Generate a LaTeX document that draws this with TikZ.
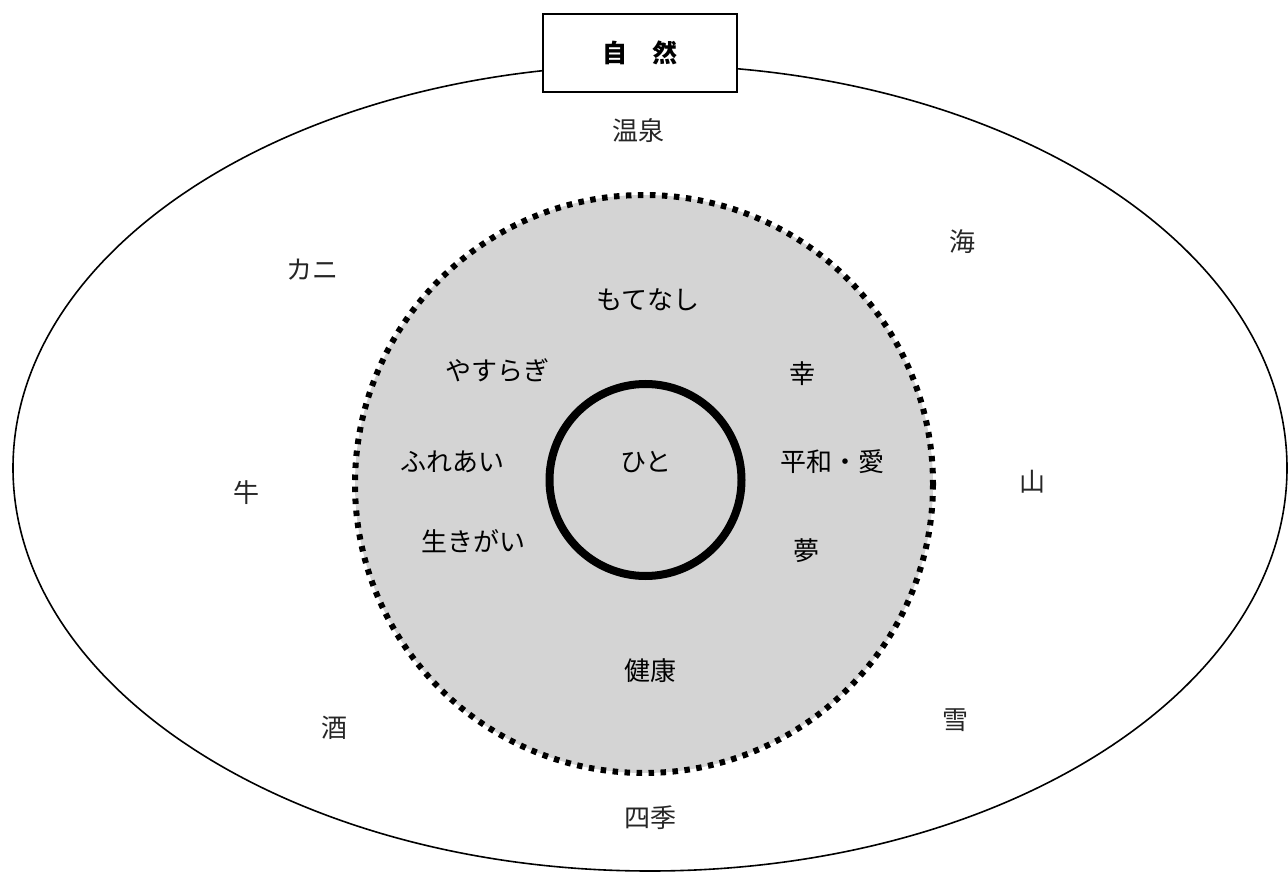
\documentclass[tikz,border=0pt]{standalone}
\usepackage{fontspec}
\newfontfamily\jp{Noto Sans CJK JP}
\begin{document}
\begin{tikzpicture}[x=1pt,y=-1pt,
  outer/.style={font=\jp\fontsize{26}{28}\selectfont, text=black!85},
  inner/.style={font=\jp\fontsize{26}{28}\selectfont}]
\useasboundingbox (0,0) rectangle (1288,874);
% outer ellipse
\draw[line width=1.6pt] (650,468) ellipse [x radius=637, y radius=403];
% dotted disk
\fill[black!17] (644,484) circle [radius=289];
\draw[line width=6pt, dash pattern=on 5.5pt off 6.5pt] (644,484) circle [radius=289];
% inner circle
\draw[line width=8pt] (645.5,480) circle [radius=96];
% title box
\node[draw, line width=1.6pt, fill=white, minimum width=194, minimum height=78,
  font=\jp\bfseries\fontsize{25}{27}\selectfont] (title) at (640,53) {自\hspace{1em}然};
% outer labels
\node[outer] (onsen) at (638,131) {温泉};
\node[outer] (umi) at (962,242) {海};
\node[outer] (kani) at (312,270) {カニ};
\node[outer] (ushi) at (246,493) {牛};
\node[outer] (yama) at (1032,482) {山};
\node[outer] (sake) at (334,728) {酒};
\node[outer] (yuki) at (955,720) {雪};
\node[outer] (shiki) at (650,818) {四季};
% inner labels
\node[inner] (motenashi) at (648,300) {もてなし};
\node[inner] (yasuragi) at (497,370) {やすらぎ};
\node[inner] (sachi) at (802,374) {幸};
\node[inner] (fureai) at (452,462) {ふれあい};
\node[inner] (hito) at (646,462) {ひと};
\node[inner] (heiwa) at (832,462) {平和・愛};
\node[inner] (ikigai) at (473,541) {生きがい};
\node[inner] (yume) at (806,551) {夢};
\node[inner] (kenko) at (650,671) {健康};
\end{tikzpicture}
\end{document}
